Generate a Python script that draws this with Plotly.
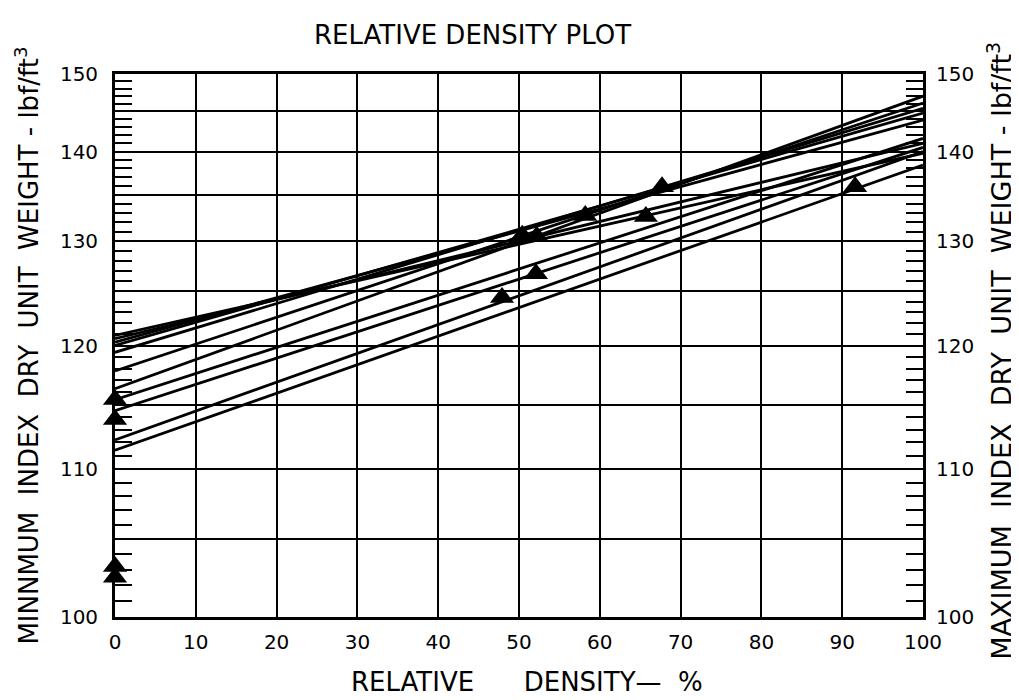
import plotly.graph_objects as go

# ---- data ----
# each line: minimum index unit weight at 0 % and maximum index unit weight at 100 %
gamma_min = [111.4, 112.2, 114.5, 115.4, 116.3, 117.8, 119.4, 120.0, 120.3, 120.6, 120.9]
gamma_max = [138.4, 140.0, 140.5, 141.6, 147.0, 146.1, 145.4, 144.8, 143.9, 141.0, 139.8]

# test points (triangles)
pt_dr = [0, 0, 0, 0, 47.9, 50.4, 52.2, 52.1, 58.2, 65.7, 67.7, 91.6]
pt_gamma = [115.4, 113.8, 103.2, 102.5, 124.4, 130.6, 130.5, 126.7, 132.7, 132.6, 135.9, 135.9]

x_ticks = [0, 10, 20, 30, 40, 50, 60, 70, 80, 90, 100]
y_labels = [100, 110, 120, 130, 140, 150]
y_half = [105, 115, 125, 135, 145]
y_minor = [v for v in range(100, 151) if v % 5 != 0]

FONT = "DejaVu Sans"

def inv(g):
    return 1.0 / g

fig = go.Figure()

for gmin, gmax in zip(gamma_min, gamma_max):
    fig.add_trace(go.Scatter(
        x=[0, 100], y=[inv(gmin), inv(gmax)], mode="lines",
        line=dict(color="black", width=2.8), hoverinfo="skip", cliponaxis=False))

fig.add_trace(go.Scatter(
    x=pt_dr, y=[inv(g) for g in pt_gamma], mode="markers",
    marker=dict(symbol="triangle-up", size=21, color="black"),
    cliponaxis=False))

# invisible traces so the extra axes are drawn
fig.add_trace(go.Scatter(x=[50], y=[inv(125)], yaxis="y2", mode="markers",
                         marker=dict(opacity=0), hoverinfo="skip"))
fig.add_trace(go.Scatter(x=[50], y=[inv(125)], yaxis="y3", mode="markers",
                         marker=dict(opacity=0), hoverinfo="skip"))

yr = [inv(100), inv(150)]
lab_vals = [inv(v) for v in y_labels]
lab_text = [str(v) for v in y_labels]
minor = dict(tickmode="array", tickvals=[inv(v) for v in y_minor],
             ticks="inside", ticklen=17, tickwidth=2.2, tickcolor="black", showgrid=False)

fig.update_layout(
    width=1019, height=700,
    margin=dict(l=107, r=104, t=66, b=91),
    plot_bgcolor="white", paper_bgcolor="white",
    showlegend=False,
    font=dict(family=FONT, color="black"),
    xaxis=dict(range=[0, 100], tickmode="array", tickvals=x_ticks,
               ticktext=[str(v) for v in x_ticks],
               showgrid=True, gridcolor="black", gridwidth=2.2,
               showline=True, linecolor="black", linewidth=2.8, mirror=True,
               ticks="", zeroline=False, tickfont=dict(size=20, family=FONT),
               ticklabelstandoff=5),
    yaxis=dict(range=yr, tickmode="array", tickvals=lab_vals, ticktext=lab_text,
               showgrid=True, gridcolor="black", gridwidth=2.2,
               showline=True, linecolor="black", linewidth=2.8, mirror=True,
               ticks="", zeroline=False, tickfont=dict(size=20, family=FONT),
               minor=minor, ticklabelstandoff=10),
    yaxis2=dict(range=yr, overlaying="y", side="right", tickmode="array",
                tickvals=lab_vals, ticktext=lab_text, showgrid=False,
                ticks="", zeroline=False, showline=False,
                tickfont=dict(size=20, family=FONT), minor=minor,
                ticklabelstandoff=12),
    yaxis3=dict(range=yr, overlaying="y", side="left", tickmode="array",
                tickvals=[inv(v) for v in y_half], showticklabels=False,
                showgrid=True, gridcolor="black", gridwidth=2.2,
                ticks="", zeroline=False, showline=False),
)

NB = "\u00a0"
fig.add_annotation(text="RELATIVE DENSITY PLOT", xref="paper", yref="paper",
                   x=0.443, y=1.072, xanchor="center", yanchor="middle", showarrow=False,
                   font=dict(size=26, family=FONT))
fig.add_annotation(text="RELATIVE" + NB * 6 + "DENSITY\u2014" + NB * 2 + "%",
                   xref="paper", yref="paper",
                   x=0.51, y=-0.12, xanchor="center", yanchor="middle", showarrow=False,
                   font=dict(size=26, family=FONT))
fig.add_annotation(text="MINNMUM" + NB * 2 + "INDEX" + NB * 2 + "DRY" + NB * 2 + "UNIT"
                        + NB * 2 + "WEIGHT - lbf/ft<sup>3</sup>",
                   xref="paper", yref="paper", x=-0.11, y=0.50, textangle=-90,
                   xanchor="center", yanchor="middle",
                   showarrow=False, font=dict(size=26, family=FONT))
fig.add_annotation(text="MAXIMUM" + NB * 2 + "INDEX" + NB * 2 + "DRY" + NB * 2 + "UNIT"
                        + NB * 2 + "WEIGHT - lbf/ft<sup>3</sup>",
                   xref="paper", yref="paper", x=1.095, y=0.49, textangle=-90,
                   xanchor="center", yanchor="middle",
                   showarrow=False, font=dict(size=27, family=FONT))

fig.write_html("out.html")
